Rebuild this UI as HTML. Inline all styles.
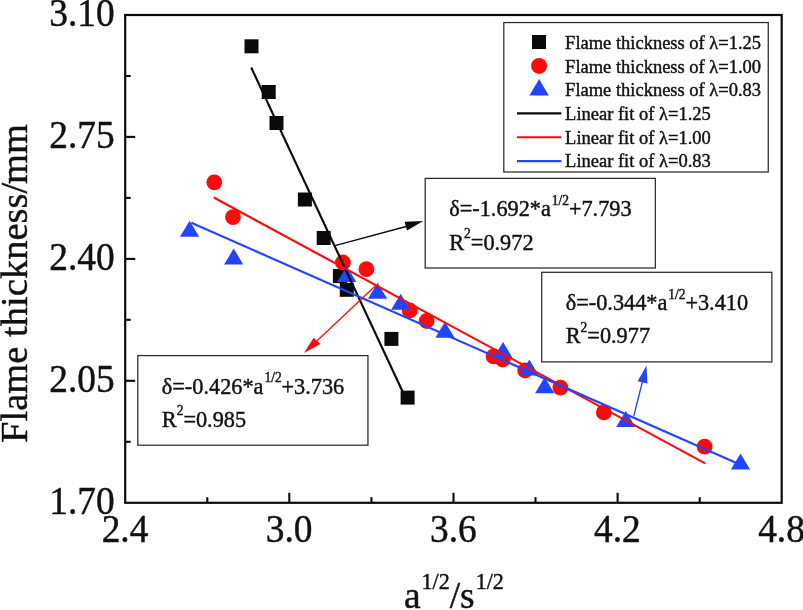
<!DOCTYPE html>
<html lang="en"><head><meta charset="utf-8"><title>Flame thickness vs a^1/2</title>
<style>
html,body{margin:0;padding:0;background:#fff;}
body{width:803px;height:610px;overflow:hidden;position:relative;}
svg{position:absolute;left:0;top:0;display:block;filter:blur(0.4px);}
text{font-family:"Liberation Serif", "DejaVu Serif", serif;fill:#111;stroke:#111;stroke-width:0.42px;}
.tk{font-size:37.4px;}
.lg{font-size:18.5px;}
.an{font-size:22.3px;}
.ans{font-size:13.5px;}
</style></head><body>
<svg width="803" height="610" viewBox="0 0 803 610">
<rect x="0" y="0" width="803" height="610" fill="#ffffff"/>
<g id="markers-squares" fill="#0a0a0a">
<rect x="244.5" y="39.3" width="14" height="14"/>
<rect x="261.7" y="85.0" width="14" height="14"/>
<rect x="269.5" y="116.0" width="14" height="14"/>
<rect x="297.9" y="192.5" width="14" height="14"/>
<rect x="316.7" y="231.0" width="14" height="14"/>
<rect x="332.9" y="269.1" width="14" height="14"/>
<rect x="339.8" y="282.8" width="14" height="14"/>
<rect x="384.4" y="331.9" width="14" height="14"/>
<rect x="400.6" y="390.6" width="14" height="14"/>
</g>
<g id="markers-circles" fill="#ff0909">
<circle cx="214.3" cy="182.3" r="7.9"/>
<circle cx="233.0" cy="217.1" r="7.9"/>
<circle cx="342.9" cy="262.5" r="7.9"/>
<circle cx="366.4" cy="269.2" r="7.9"/>
<circle cx="409.7" cy="310.5" r="7.9"/>
<circle cx="426.6" cy="321.0" r="7.9"/>
<circle cx="493.6" cy="356.4" r="7.9"/>
<circle cx="502.7" cy="359.5" r="7.9"/>
<circle cx="525.2" cy="370.5" r="7.9"/>
<circle cx="560.4" cy="387.6" r="7.9"/>
<circle cx="603.9" cy="412.4" r="7.9"/>
<circle cx="704.6" cy="446.7" r="7.9"/>
</g>
<g id="markers-triangles" fill="#2244ff">
<polygon points="189.6,220.7 180.0,236.7 199.2,236.7"/>
<polygon points="233.7,248.6 224.1,264.6 243.3,264.6"/>
<polygon points="346.7,266.0 337.1,282.0 356.3,282.0"/>
<polygon points="377.6,282.7 368.0,298.7 387.2,298.7"/>
<polygon points="400.7,293.8 391.1,309.8 410.3,309.8"/>
<polygon points="445.0,321.7 435.4,337.7 454.6,337.7"/>
<polygon points="503.0,342.1 493.4,358.1 512.6,358.1"/>
<polygon points="529.3,359.6 519.7,375.6 538.9,375.6"/>
<polygon points="544.7,377.2 535.1,393.2 554.3,393.2"/>
<polygon points="625.8,411.1 616.2,427.1 635.4,427.1"/>
<polygon points="740.5,453.6 730.9,469.6 750.1,469.6"/>
</g>
<line x1="251.2" y1="67.5" x2="403.5" y2="393.5" stroke="#0a0a0a" stroke-width="2.15"/>
<line x1="213.8" y1="197.5" x2="705.1" y2="463.4" stroke="#ff0909" stroke-width="2.15"/>
<line x1="191.3" y1="222.8" x2="738.2" y2="463.8" stroke="#2244ff" stroke-width="2.15"/>
<line x1="335.0" y1="245.6" x2="408.0" y2="226.0" stroke="#0a0a0a" stroke-width="1.30"/>
<polygon points="423.3,221.1 404.6,221.8 407.0,230.6" fill="#0a0a0a"/>
<line x1="376.0" y1="285.2" x2="312.0" y2="345.5" stroke="#ff0909" stroke-width="1.30"/>
<polygon points="304.0,352.9 313.6,337.7 320.4,344.0" fill="#ff0909"/>
<line x1="633.8" y1="416.0" x2="642.8" y2="380.0" stroke="#2244ff" stroke-width="1.30"/>
<polygon points="646.5,365.4 637.7,381.3 647.4,383.6" fill="#2244ff"/>
<rect x="425.2" y="178.4" width="230.15" height="89.6" fill="#fff" stroke="#2a2a2a" stroke-width="1.25"/>
<text class="an" transform="translate(449.2,216.4) scale(1,1.030)">δ=-1.692*a<tspan class="ans" dy="-11.3" dx="1">1/2</tspan><tspan dy="11.3" dx="-0.2">+7.793</tspan></text>
<text class="an" transform="translate(449.2,249.5) scale(1,1.030)">R<tspan class="ans" dy="-11.3">2</tspan><tspan dy="11.3">=0.972</tspan></text>
<rect x="137.8" y="355.6" width="230.15" height="89.6" fill="#fff" stroke="#2a2a2a" stroke-width="1.25"/>
<text class="an" transform="translate(161.8,393.6) scale(1,1.030)">δ=-0.426*a<tspan class="ans" dy="-11.3" dx="1">1/2</tspan><tspan dy="11.3" dx="-0.2">+3.736</tspan></text>
<text class="an" transform="translate(161.8,426.8) scale(1,1.030)">R<tspan class="ans" dy="-11.3">2</tspan><tspan dy="11.3">=0.985</tspan></text>
<rect x="541.7" y="272.3" width="230.15" height="89.6" fill="#fff" stroke="#2a2a2a" stroke-width="1.25"/>
<text class="an" transform="translate(565.7,310.3) scale(1,1.030)">δ=-0.344*a<tspan class="ans" dy="-11.3" dx="1">1/2</tspan><tspan dy="11.3" dx="-0.2">+3.410</tspan></text>
<text class="an" transform="translate(565.7,343.4) scale(1,1.030)">R<tspan class="ans" dy="-11.3">2</tspan><tspan dy="11.3">=0.977</tspan></text>
<rect x="503.8" y="22.55" width="264.45" height="149.45" fill="#fff" stroke="#2a2a2a" stroke-width="1.25"/>
<rect x="532" y="35" width="14" height="14" fill="#0a0a0a"/>
<circle cx="539.1" cy="65.9" r="8" fill="#ff0909"/>
<polygon points="539.1,79.0 529.4,95.5 548.8,95.5" fill="#2244ff"/>
<line x1="517.0" y1="113.4" x2="561.4" y2="113.4" stroke="#0a0a0a" stroke-width="2.10"/>
<line x1="517.0" y1="137.3" x2="561.4" y2="137.3" stroke="#ff0909" stroke-width="2.10"/>
<line x1="517.0" y1="161.1" x2="561.4" y2="161.1" stroke="#2244ff" stroke-width="2.10"/>
<text class="lg" transform="translate(565.1,48.7) scale(1,1.030)">Flame thickness of λ=1.25</text>
<text class="lg" transform="translate(565.1,72.5) scale(1,1.030)">Flame thickness of λ=1.00</text>
<text class="lg" transform="translate(565.1,96.2) scale(1,1.030)">Flame thickness of λ=0.83</text>
<text class="lg" transform="translate(565.1,120.0) scale(1,1.030)">Linear fit of λ=1.25</text>
<text class="lg" transform="translate(565.1,143.7) scale(1,1.030)">Linear fit of λ=1.00</text>
<text class="lg" transform="translate(565.1,167.4) scale(1,1.030)">Linear fit of λ=0.83</text>
<rect x="125.2" y="15.0" width="656.5" height="487.8" fill="none" stroke="#0a0a0a" stroke-width="2.2"/>
<line x1="125.2" y1="76.0" x2="130.7" y2="76.0" stroke="#0a0a0a" stroke-width="2.10"/>
<line x1="125.2" y1="136.9" x2="135.2" y2="136.9" stroke="#0a0a0a" stroke-width="2.10"/>
<line x1="125.2" y1="197.9" x2="130.7" y2="197.9" stroke="#0a0a0a" stroke-width="2.10"/>
<line x1="125.2" y1="258.9" x2="135.2" y2="258.9" stroke="#0a0a0a" stroke-width="2.10"/>
<line x1="125.2" y1="319.8" x2="130.7" y2="319.8" stroke="#0a0a0a" stroke-width="2.10"/>
<line x1="125.2" y1="380.8" x2="135.2" y2="380.8" stroke="#0a0a0a" stroke-width="2.10"/>
<line x1="125.2" y1="441.8" x2="130.7" y2="441.8" stroke="#0a0a0a" stroke-width="2.10"/>
<line x1="207.3" y1="502.8" x2="207.3" y2="497.2" stroke="#0a0a0a" stroke-width="2.10"/>
<line x1="289.3" y1="502.8" x2="289.3" y2="492.8" stroke="#0a0a0a" stroke-width="2.10"/>
<line x1="371.4" y1="502.8" x2="371.4" y2="497.2" stroke="#0a0a0a" stroke-width="2.10"/>
<line x1="453.5" y1="502.8" x2="453.5" y2="492.8" stroke="#0a0a0a" stroke-width="2.10"/>
<line x1="535.5" y1="502.8" x2="535.5" y2="497.2" stroke="#0a0a0a" stroke-width="2.10"/>
<line x1="617.6" y1="502.8" x2="617.6" y2="492.8" stroke="#0a0a0a" stroke-width="2.10"/>
<line x1="699.7" y1="502.8" x2="699.7" y2="497.2" stroke="#0a0a0a" stroke-width="2.10"/>
<text class="tk" transform="translate(114.7,25.9) scale(1,1.055)" text-anchor="end">3.10</text>
<text class="tk" transform="translate(114.7,147.8) scale(1,1.055)" text-anchor="end">2.75</text>
<text class="tk" transform="translate(114.7,269.8) scale(1,1.055)" text-anchor="end">2.40</text>
<text class="tk" transform="translate(114.7,391.7) scale(1,1.055)" text-anchor="end">2.05</text>
<text class="tk" transform="translate(114.7,513.6) scale(1,1.055)" text-anchor="end">1.70</text>
<text class="tk" transform="translate(125.0,541.9) scale(1,1.055)" text-anchor="middle">2.4</text>
<text class="tk" transform="translate(289.1,541.9) scale(1,1.055)" text-anchor="middle">3.0</text>
<text class="tk" transform="translate(453.3,541.9) scale(1,1.055)" text-anchor="middle">3.6</text>
<text class="tk" transform="translate(617.4,541.9) scale(1,1.055)" text-anchor="middle">4.2</text>
<text class="tk" transform="translate(781.5,541.9) scale(1,1.055)" text-anchor="middle">4.8</text>
<text class="tk" transform="translate(404.0,607.7) scale(1,1.030)">a<tspan font-size="22" dy="-18.5" dx="1">1/2</tspan><tspan dy="18.5">/s</tspan><tspan font-size="22" dy="-18.5" dx="1">1/2</tspan></text>
<text class="tk" transform="translate(26.7,442.9) rotate(-90) scale(1.031,1.03)">Flame thickness/<tspan dx="-1.2">mm</tspan></text>
</svg>
</body></html>
